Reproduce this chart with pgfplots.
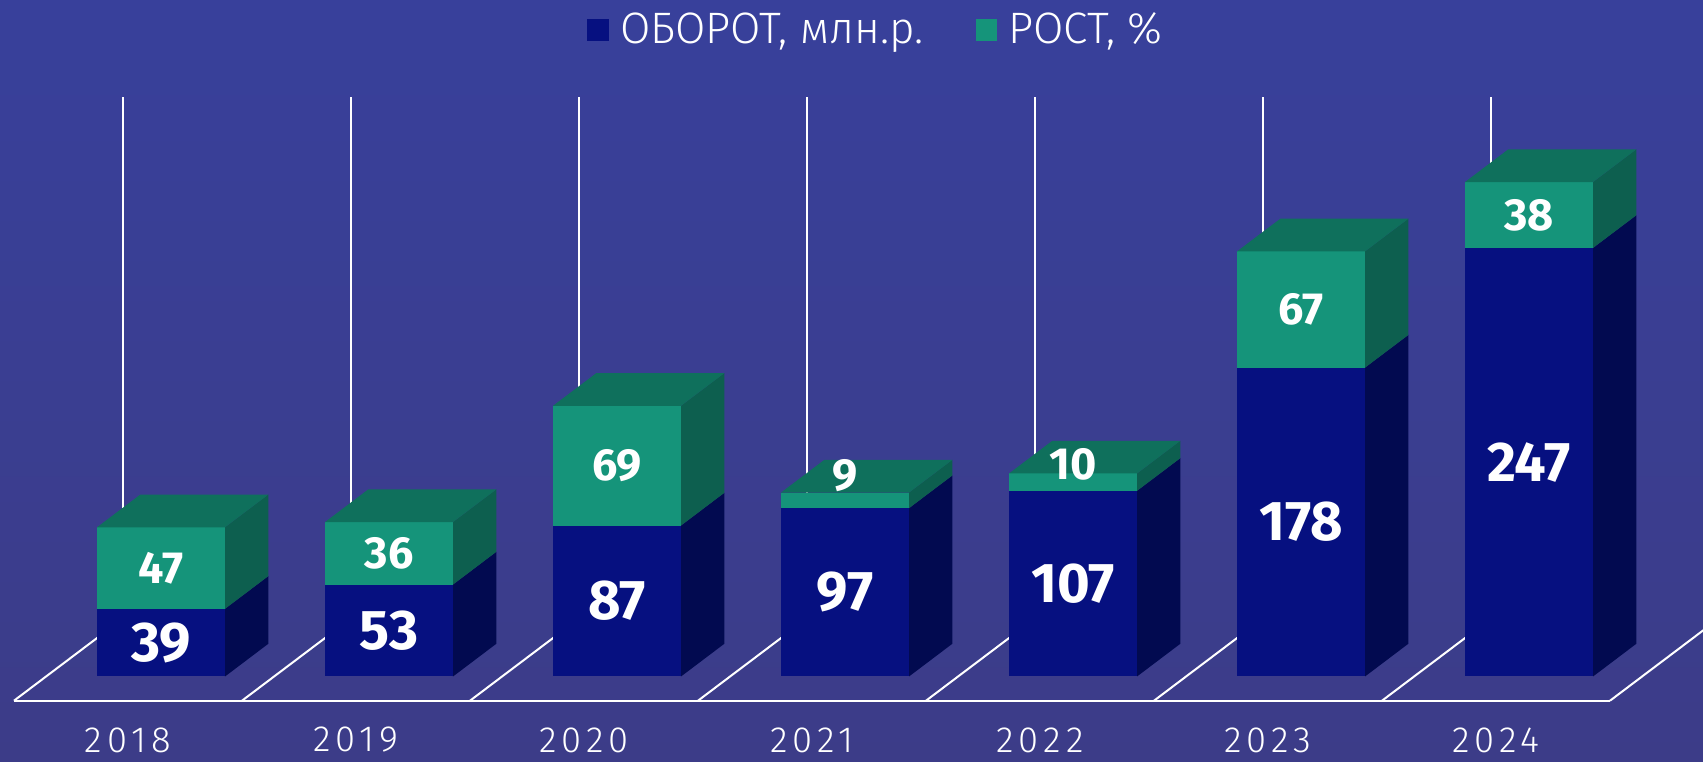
\documentclass[border=0pt]{standalone}
\usepackage{pgfplots}
\pgfplotsset{compat=1.18}
\usepackage{fontspec}
\setmainfont{Fira Sans Light}
\newfontfamily\boldfont{Fira Sans Bold}
\newfontfamily\yearfont{Fira Sans Light}[LetterSpace=14]
\definecolor{bgtop}{RGB}{56,64,155}
\definecolor{bgbot}{RGB}{60,60,136}
\definecolor{bluefront}{RGB}{6,16,128}
\definecolor{blueside}{RGB}{2,10,80}
\definecolor{greenfront}{RGB}{21,148,122}
\definecolor{greentop}{RGB}{15,112,92}
\definecolor{greenside}{RGB}{13,95,79}
\tikzset{
  bluelab/.style={font=\boldfont\fontsize{28pt}{28pt}\selectfont, text=white, inner sep=0pt},
  greenlab/.style={font=\boldfont\fontsize{22.5pt}{22.5pt}\selectfont, text=white, inner sep=0pt},
  yearlab/.style={font=\yearfont\fontsize{18.2pt}{18.2pt}\selectfont, text=white, inner sep=0pt},
}
% data (2018 ... 2024)
\def\oborot{{39,53,87,97,107,178,247}}
\def\rost{{47,36,69,9,10,67,38}}
\def\labshift{{0,0,0,14.15,10.35,0,0}}
\begin{document}
\begin{tikzpicture}
\shade[top color=bgtop, bottom color=bgbot] (0,0) rectangle (851.5pt,381pt);
\begin{axis}[
  at={(0,0)}, anchor=south west,
  scale only axis, width=851.5pt, height=381pt,
  xmin=-0.5614, xmax=6.9079, ymin=-35.33, ymax=403.86,
  hide axis,
  legend style={at={(axis cs:2.0145,386.6)}, anchor=west, draw=none, fill=none,
    inner sep=0pt, outer sep=0pt, legend columns=2,
    nodes={inner sep=0pt, text=white, font=\fontsize{22pt}{22pt}\selectfont},
    /tikz/every odd column/.style={column sep=5.5pt},
    /tikz/every even column/.style={column sep=26pt}},
  legend image code/.code={\fill[#1] (0pt,-5.4pt) rectangle (10.85pt,5.4pt);},
]
\addlegendimage{fill=bluefront, draw=none}
\addlegendentry{ОБОРОТ, млн.р.}
\addlegendimage{fill=greenfront, draw=none}
\addlegendentry{РОСТ, \%}

% floor front edge and depth lines
\addplot[white, line width=1pt] coordinates {(-0.5,0) (6.5,0)};
\pgfplotsforeachungrouped \k in {0,...,7}{
  \pgfmathsetmacro\xa{\k-0.5}
  \pgfmathsetmacro\xb{\k-0.5+0.4725}
  \addplot[white, line width=1pt] coordinates {(\xa,0) (\xb,46.86)};
}
% vertical grid lines
\pgfplotsforeachungrouped \k in {0,...,6}{
  \pgfmathsetmacro\xa{\k-0.022}
  \addplot[white, line width=1pt] coordinates {(\xa,40) (\xa,348.1)};
}
% bars
\pgfplotsforeachungrouped \k in {0,...,6}{
  \pgfmathtruncatemacro\b{\oborot[\k]}
  \pgfmathtruncatemacro\g{\rost[\k]}
  \pgfmathsetmacro\s{\labshift[\k]}
  \pgfmathtruncatemacro\yr{2018+\k}
  \pgfmathsetmacro\xlf{\k+0.1447-0.2807}
  \pgfmathsetmacro\xrf{\k+0.1447+0.2807}
  \pgfmathsetmacro\xlb{\k+0.3346-0.2807}
  \pgfmathsetmacro\xrb{\k+0.3346+0.2807}
  \pgfmathsetmacro\xc{\k+0.1447}
  \pgfmathsetmacro\yf{13.95}
  \pgfmathsetmacro\yb{32.80}
  \pgfmathsetmacro\yfm{13.95+\b}
  \pgfmathsetmacro\ybm{32.80+\b}
  \pgfmathsetmacro\yft{13.95+\b+\g}
  \pgfmathsetmacro\ybt{32.80+\b+\g}
  \pgfmathsetmacro\ylb{13.95+\b/2}
  \pgfmathsetmacro\ylg{13.95+\b+\g/2+\s}
  \addplot[fill=blueside, draw=none] coordinates {(\xrf,\yf) (\xrb,\yb) (\xrb,\ybm) (\xrf,\yfm)};
  \addplot[fill=bluefront, draw=none] coordinates {(\xlf,\yf) (\xrf,\yf) (\xrf,\yfm) (\xlf,\yfm)};
  \addplot[fill=greenside, draw=none] coordinates {(\xrf,\yfm) (\xrb,\ybm) (\xrb,\ybt) (\xrf,\yft)};
  \addplot[fill=greenfront, draw=none] coordinates {(\xlf,\yfm) (\xrf,\yfm) (\xrf,\yft) (\xlf,\yft)};
  \addplot[fill=greentop, draw=none] coordinates {(\xlf,\yft) (\xrf,\yft) (\xrb,\ybt) (\xlb,\ybt)};
  \edef\tmp{\noexpand\node[bluelab] at (axis cs:\xc,\ylb) {\b};
            \noexpand\node[greenlab] at (axis cs:\xc,\ylg) {\g};
            \noexpand\node[yearlab] at (axis cs:\k,-22.6) {\yr};}
  \tmp
}
\end{axis}
\end{tikzpicture}
\end{document}
